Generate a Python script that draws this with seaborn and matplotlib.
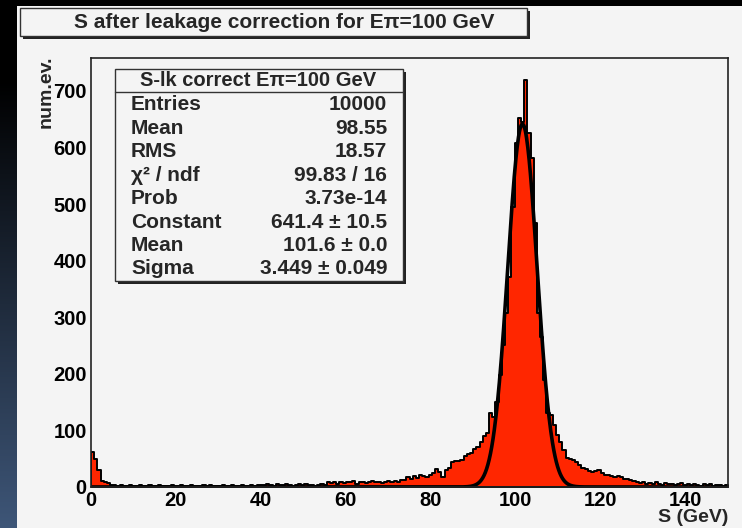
import numpy as np
import pandas as pd
import seaborn as sns
import matplotlib.pyplot as plt
from matplotlib.patches import Rectangle
from matplotlib.lines import Line2D
from matplotlib.ticker import MultipleLocator

# histogram: 200 bins of 0.75 GeV from 0 to 150
bin_width = 0.75
n_low = [61, 49, 30, 11, 9, 7, 4]
n_flat = [3, 2, 4, 1, 2, 3, 2, 1, 3, 2, 2, 4, 1, 2, 3, 1, 2, 2, 3, 1,
          2, 4, 2, 1, 3, 2, 2, 1, 3, 2, 4, 2, 1, 2, 3, 2, 1, 3, 2, 2,
          3, 1, 2, 3, 2, 4, 3,
          3, 5, 4, 2, 6, 3, 4, 5, 3, 2, 4, 6, 3, 5, 4, 3, 2, 4, 5, 3]
n_rise = [8, 7, 9, 6, 8, 7, 9, 8, 10, 6, 8, 9, 7, 8, 10, 9, 8, 7, 9, 11,
          8, 10, 9, 12,
          12, 18, 14, 20, 16, 21, 19, 17, 22, 24, 31, 27, 18, 30, 33, 44,
          46, 46, 48, 54, 58]
n_peak = [60, 67, 70, 80, 90, 95, 131, 124, 150, 198, 251, 307, 371, 495,
          608, 652, 645, 719, 625, 581, 466, 307, 265, 189, 131, 127, 110, 92]
n_tail = [80, 66, 52, 50, 47, 45, 38, 33, 31, 29, 27, 28, 30, 24, 21, 22,
          19, 18, 20, 17, 15, 14, 12, 10, 9, 7, 8, 6, 7, 5, 8, 6, 4, 7, 5,
          6, 4, 5, 7, 3, 5, 4, 6, 3, 2, 5, 3, 6, 2, 3, 4, 2, 3]
counts = n_low + n_flat + n_rise + n_peak + n_tail

# gaussian fit parameters
fit_constant = 641.4
fit_mean = 101.6
fit_sigma = 3.449

stats_title = "S-lk correct E\u03c0=100 GeV"
stats_labels = ["Entries", "Mean", "RMS", "\u03c7\u00b2 / ndf", "Prob",
                "Constant", "Mean", "Sigma"]
stats_values = ["10000", "98.55", "18.57", "99.83 / 16", "3.73e-14",
                "641.4 \u00b1 10.5", "101.6 \u00b1 0.0", "3.449 \u00b1 0.049"]

W, H = 742, 528
bg = '#f4f4f4'
red = '#ff2600'

sns.set_theme(style="white")
plt.rcParams['font.family'] = ['Liberation Sans', 'DejaVu Sans']
plt.rcParams['font.weight'] = 'bold'


def fx(x):
    return x / W


def fy(y):
    return 1 - y / H


fig = plt.figure(figsize=(W / 100, H / 100), dpi=100, facecolor=bg)

# dark left strip with gradient and black top band
gax = fig.add_axes([0, 0, fx(17), 1])
t = np.clip((np.arange(H) - 80) / (H - 80), 0, 1)
top, bot = np.array([0, 0, 0]), np.array([62, 86, 120]) / 255
grad = (top[None, :] * (1 - t[:, None]) + bot[None, :] * t[:, None])[:, None, :]
gax.imshow(grad, aspect='auto', extent=[0, 1, 1, 0])
gax.axis('off')
fig.add_artist(Rectangle((0, fy(6)), 1, 6 / H, transform=fig.transFigure,
                         facecolor='black', edgecolor='none'))

# main plot
ax = fig.add_axes([fx(91), fy(487), fx(728) - fx(91), fy(58) - fy(487)])
ax.set_facecolor(bg)
n_bins = len(counts)
df = pd.DataFrame({'S': (np.arange(n_bins) + 0.5) * bin_width, 'n': counts})
sns.histplot(data=df, x='S', weights='n', binwidth=bin_width,
             binrange=(0, n_bins * bin_width), element='step',
             fill=True, color=red, alpha=1, edgecolor='black',
             linewidth=1.4, ax=ax)

xs = np.linspace(0, 150, 1500)
fit_df = pd.DataFrame({'S': xs, 'f': fit_constant *
                       np.exp(-0.5 * ((xs - fit_mean) / fit_sigma) ** 2)})
sns.lineplot(data=fit_df, x='S', y='f', color='black', linewidth=2.6, ax=ax)

ax.set_xlim(0, 150)
ax.set_ylim(0, 758)
ax.set_xlabel('')
ax.set_ylabel('')
ax.xaxis.set_major_locator(MultipleLocator(20))
ax.xaxis.set_minor_locator(MultipleLocator(5))
ax.yaxis.set_major_locator(MultipleLocator(100))
ax.yaxis.set_minor_locator(MultipleLocator(20))
ax.set_xticks(range(0, 141, 20))
ax.tick_params(axis='both', which='both', direction='in', colors='#333333',
               labelcolor='black', labelsize=14.5, width=1)
ax.tick_params(axis='x', which='major', length=9, pad=3)
ax.tick_params(axis='x', which='minor', length=5)
ax.tick_params(axis='y', which='major', length=13, pad=3)
ax.tick_params(axis='y', which='minor', length=6)
for lab in ax.get_xticklabels() + ax.get_yticklabels():
    lab.set_fontweight('bold')
for sp in ax.spines.values():
    sp.set_color('#222222')
    sp.set_linewidth(1.2)

fig.text(fx(728), fy(518), "S (GeV)", ha='right', va='center',
         fontsize=14, fontweight='bold')
fig.text(fx(46), fy(55), "num.ev.", ha='center', va='top', rotation=90,
         fontsize=14, fontweight='bold')


def box(x0, y0, x1, y1):
    fig.add_artist(Rectangle((fx(x0 + 3), fy(y1 + 3)), (x1 - x0) / W,
                             (y1 - y0) / H, transform=fig.transFigure,
                             facecolor='#222222', edgecolor='none'))
    fig.add_artist(Rectangle((fx(x0), fy(y1)), (x1 - x0) / W, (y1 - y0) / H,
                             transform=fig.transFigure, facecolor=bg,
                             edgecolor='#333333', linewidth=1))


# title box
box(20, 8, 527, 36)
fig.text(fx(284), fy(22), "S after leakage correction for E\u03c0=100 GeV",
         ha='center', va='center', fontsize=15, fontweight='bold')

# stats box
box(115, 69, 403, 281)
fig.add_artist(Line2D([fx(115), fx(403)], [fy(92), fy(92)],
                      transform=fig.transFigure, color='#333333', lw=1))
fig.text(fx(258), fy(81), stats_title, ha='center', va='center',
         fontsize=14.5, fontweight='bold')
for i, (lab, val) in enumerate(zip(stats_labels, stats_values)):
    yy = 105 + i * 23.4
    fig.text(fx(131), fy(yy), lab, ha='left', va='center', fontsize=15,
             fontweight='bold')
    fig.text(fx(387), fy(yy), val, ha='right', va='center', fontsize=15,
             fontweight='bold')

fig.savefig('out.png', dpi=100, facecolor=bg)
